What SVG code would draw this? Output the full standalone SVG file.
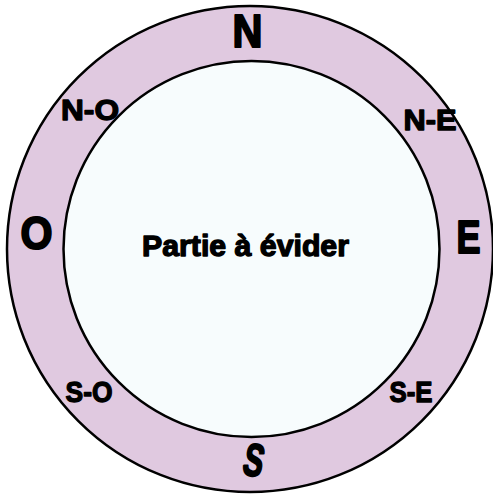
<svg xmlns="http://www.w3.org/2000/svg" width="493" height="497" viewBox="0 0 493 497">
<style>
.lbl{font-family:"Liberation Sans","DejaVu Sans",Arial,sans-serif;font-weight:bold;fill:#000;stroke:#000;stroke-linejoin:round;text-anchor:middle}
.big{font-size:46px;stroke-width:2}
.mid{font-size:29px;stroke-width:1.3}
.ring{fill:#e0c9e0;stroke:#000;stroke-width:2.5}
.inner{fill:#f7fcfd;stroke:#000;stroke-width:2.5}
</style>
<rect width="493" height="497" fill="#ffffff"/>
<g id="outer-ring">
<circle class="ring" cx="250" cy="249" r="243"/>
</g>
<g id="inner-part">
<circle class="inner" cx="251.5" cy="249" r="188"/>
<text class="lbl mid" x="245.5" y="256" textLength="207" lengthAdjust="spacingAndGlyphs">Partie à évider</text>
</g>
<g id="labels">
<text id="N" class="lbl big" x="247.5" y="47" textLength="30" lengthAdjust="spacingAndGlyphs">N</text>
<text id="O" class="lbl big" x="36.5" y="249" textLength="32" lengthAdjust="spacingAndGlyphs">O</text>
<text id="E" class="lbl big" x="468.5" y="253" textLength="24" lengthAdjust="spacingAndGlyphs">E</text>
<text id="S" class="lbl big" x="254" y="476" textLength="20" lengthAdjust="spacingAndGlyphs" transform="rotate(12 254 461)">S</text>
<text id="NO" class="lbl mid" x="90" y="120" textLength="58" lengthAdjust="spacingAndGlyphs">N-O</text>
<text id="NE" class="lbl mid" x="430" y="130" textLength="53" lengthAdjust="spacingAndGlyphs">N-E</text>
<text id="SO" class="lbl mid" x="89" y="402" textLength="47" lengthAdjust="spacingAndGlyphs">S-O</text>
<text id="SE" class="lbl mid" x="411" y="402" textLength="43" lengthAdjust="spacingAndGlyphs">S-E</text>
</g>
</svg>
